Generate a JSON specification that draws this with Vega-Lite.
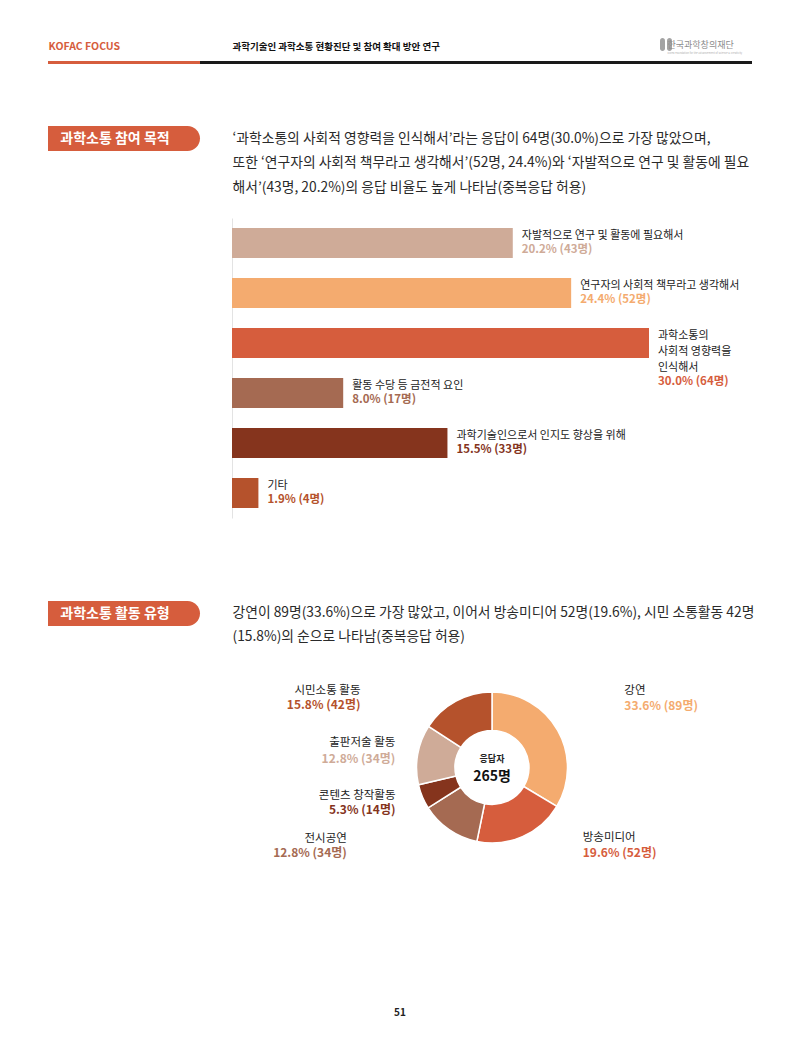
{
  "$schema": "https://vega.github.io/schema/vega-lite/v6.json",
  "padding": 0,
  "background": "white",
  "bounds": "full",
  "spacing": 0,
  "resolve": {"scale": {"color": "independent", "x": "independent", "y": "independent", "theta": "independent"}},
  "config": {"view": {"stroke": null}, "font": "Noto Sans CJK KR", "concat": {"spacing": 0}},
  "vconcat": [
    {"width": 800, "height": 38, "data": {"values": []}, "mark": "rect"},
    {"hconcat": [
      {"width": 48, "height": 18, "data": {"values": []}, "mark": "rect"},
      {"width": 1, "height": 18, "data": {"values": [{"t": "KOFAC FOCUS"}]}, "mark": {"type": "text", "align": "left", "baseline": "middle", "fontSize": 10.5, "fontWeight": "bold", "color": "#d65d3d"}, "encoding": {"text": {"field": "t"}}},
      {"width": 183, "height": 18, "data": {"values": []}, "mark": "rect"},
      {"width": 1, "height": 18, "data": {"values": [{"t": "과학기술인 과학소통 현황진단 및 참여 확대 방안 연구"}]}, "mark": {"type": "text", "align": "left", "baseline": "middle", "fontSize": 9.5, "fontWeight": "bold", "color": "#111111"}, "encoding": {"text": {"field": "t"}}},
      {"width": 427, "height": 18, "data": {"values": []}, "mark": "rect"},
      {"hconcat": [
        {"width": 5, "height": 13, "data": {"values": [{}]}, "mark": {"type": "rect", "color": "#a3a3a3", "cornerRadius": 2.5}, "encoding": {}},
        {"width": 2, "height": 13, "data": {"values": []}, "mark": "rect"},
        {"width": 5, "height": 13, "data": {"values": [{}]}, "mark": {"type": "rect", "color": "#a3a3a3", "cornerRadius": 2.5}, "encoding": {}}
      ], "spacing": 0, "bounds": "flush"},
      {"width": 7, "height": 18, "data": {"values": []}, "mark": "rect"},
      {"width": 1, "height": 18, "data": {"values": [{"k": "한국과학창의재단", "e": "Korea Foundation for the Advancement of Science & Creativity"}]},
       "layer": [
        {"mark": {"type": "text", "align": "left", "baseline": "middle", "dy": -2, "fontSize": 9, "color": "#8c8c8c"}, "encoding": {"text": {"field": "k"}}},
        {"mark": {"type": "text", "align": "left", "baseline": "middle", "dy": 6, "fontSize": 2.6, "color": "#b0b0b0"}, "encoding": {"text": {"field": "e"}}}
       ]}
    ], "spacing": 0, "bounds": "flush"},
    {"width": 800, "height": 5, "data": {"values": []}, "mark": "rect"},
    {"hconcat": [
      {"width": 48, "height": 3, "data": {"values": []}, "mark": "rect"},
      {"width": 152, "height": 3, "data": {"values": [{}]}, "mark": {"type": "rect", "color": "#d65d3d"}, "encoding": {}},
      {"width": 552, "height": 3, "data": {"values": [{}]}, "mark": {"type": "rect", "color": "#1a1a1a"}, "encoding": {}}
    ], "spacing": 0, "bounds": "flush"},
    {"width": 800, "height": 62, "data": {"values": []}, "mark": "rect"},
    {"hconcat": [
      {"width": 48, "height": 73, "data": {"values": []}, "mark": "rect"},
      {"width": 152, "height": 25, "data": {"values": [{"label": "과학소통 참여 목적"}]},
       "layer": [
        {"mark": {"type": "rect", "color": "#d65d3d", "cornerRadiusTopRight": 12.5, "cornerRadiusBottomRight": 12.5}, "encoding": {}},
        {"mark": {"type": "text", "color": "#ffffff", "fontWeight": "bold", "fontSize": 14, "align": "center", "baseline": "middle", "dx": -9}, "encoding": {"text": {"field": "label"}}}
       ]},
      {"width": 32, "height": 25, "data": {"values": []}, "mark": "rect"},
      {"width": 1, "height": 25, "data": {"values": [{"t": "‘과학소통의 사회적 영향력을 인식해서’라는 응답이 64명(30.0%)으로 가장 많았으며,\n또한 ‘연구자의 사회적 책무라고 생각해서’(52명, 24.4%)와 ‘자발적으로 연구 및 활동에 필요\n해서’(43명, 20.2%)의 응답 비율도 높게 나타남(중복응답 허용)"}]},
       "mark": {"type": "text", "align": "left", "baseline": "middle", "fontSize": 13.8, "lineHeight": 24.5, "lineBreak": "\n", "color": "#2a2a2a"}, "encoding": {"text": {"field": "t"}}}
    ], "spacing": 0, "bounds": "flush"},
    {"width": 800, "height": 19, "data": {"values": []}, "mark": "rect"},
    {"hconcat": [
      {"width": 232, "height": 300, "data": {"values": []}, "mark": "rect"},
      {"width": 417, "height": 300,
       "data": {"values": [
        {"reason": "자발적으로 연구 및 활동에 필요해서", "label": "자발적으로 연구 및 활동에 필요해서", "pct": 20.2, "n": 43, "value": "20.2% (43명)"},
        {"reason": "연구자의 사회적 책무라고 생각해서", "label": "연구자의 사회적 책무라고 생각해서", "pct": 24.4, "n": 52, "value": "24.4% (52명)"},
        {"reason": "과학소통의 사회적 영향력을 인식해서", "label": "과학소통의\n사회적 영향력을\n인식해서", "pct": 30.0, "n": 64, "value": "30.0% (64명)"},
        {"reason": "활동 수당 등 금전적 요인", "label": "활동 수당 등 금전적 요인", "pct": 8.0, "n": 17, "value": "8.0% (17명)"},
        {"reason": "과학기술인으로서 인지도 향상을 위해", "label": "과학기술인으로서 인지도 향상을 위해", "pct": 15.5, "n": 33, "value": "15.5% (33명)"},
        {"reason": "기타", "label": "기타", "pct": 1.9, "n": 4, "value": "1.9% (4명)"}
       ]},
       "encoding": {
        "x": {"field": "pct", "type": "quantitative", "scale": {"domain": [0, 30]}, "axis": null},
        "color": {"field": "reason", "type": "nominal", "scale": {"domain": ["자발적으로 연구 및 활동에 필요해서", "연구자의 사회적 책무라고 생각해서", "과학소통의 사회적 영향력을 인식해서", "활동 수당 등 금전적 요인", "과학기술인으로서 인지도 향상을 위해", "기타"], "range": ["#cfab98", "#f4ab6f", "#d65d3d", "#a56a52", "#85341d", "#b5522c"]}, "legend": null}
       },
       "layer": [
        {"mark": {"type": "bar"},
         "encoding": {"y": {"field": "reason", "type": "nominal", "scale": {"domain": ["자발적으로 연구 및 활동에 필요해서", "연구자의 사회적 책무라고 생각해서", "과학소통의 사회적 영향력을 인식해서", "활동 수당 등 금전적 요인", "과학기술인으로서 인지도 향상을 위해", "기타"], "paddingInner": 0.4, "paddingOuter": 0.2}, "axis": {"title": null, "labels": false, "ticks": false, "domain": true, "domainColor": "#e3e3e3", "domainWidth": 1, "grid": false}}}},
        {"mark": {"type": "text", "align": "left", "baseline": "top", "dx": 9, "dy": 2, "fontSize": 11, "lineHeight": 16, "lineBreak": "\n"},
         "encoding": {"y": {"field": "reason", "type": "nominal", "bandPosition": 0, "axis": {"title": null, "labels": false, "ticks": false, "domain": true, "domainColor": "#e3e3e3", "grid": false}}, "text": {"field": "label"}, "color": {"value": "#222222"}}},
        {"transform": [{"filter": "datum.pct != 30"}],
         "mark": {"type": "text", "align": "left", "baseline": "top", "dx": 9, "dy": 16, "fontSize": 11.5, "fontWeight": "bold"},
         "encoding": {"y": {"field": "reason", "type": "nominal", "bandPosition": 0, "axis": {"title": null, "labels": false, "ticks": false, "domain": true, "domainColor": "#e3e3e3", "grid": false}}, "text": {"field": "value"}}},
        {"transform": [{"filter": "datum.pct == 30"}],
         "mark": {"type": "text", "align": "left", "baseline": "top", "dx": 9, "dy": 48, "fontSize": 11.5, "fontWeight": "bold"},
         "encoding": {"y": {"field": "reason", "type": "nominal", "bandPosition": 0, "axis": {"title": null, "labels": false, "ticks": false, "domain": true, "domainColor": "#e3e3e3", "grid": false}}, "text": {"field": "value"}}}
       ]}
    ], "spacing": 0, "bounds": "flush"},
    {"width": 800, "height": 83, "data": {"values": []}, "mark": "rect"},
    {"hconcat": [
      {"width": 48, "height": 47, "data": {"values": []}, "mark": "rect"},
      {"width": 152, "height": 25, "data": {"values": [{"label": "과학소통 활동 유형"}]},
       "layer": [
        {"mark": {"type": "rect", "color": "#d65d3d", "cornerRadiusTopRight": 12.5, "cornerRadiusBottomRight": 12.5}, "encoding": {}},
        {"mark": {"type": "text", "color": "#ffffff", "fontWeight": "bold", "fontSize": 14, "align": "center", "baseline": "middle", "dx": -9}, "encoding": {"text": {"field": "label"}}}
       ]},
      {"width": 32, "height": 25, "data": {"values": []}, "mark": "rect"},
      {"width": 1, "height": 23, "data": {"values": [{"t": "강연이 89명(33.6%)으로 가장 많았고, 이어서 방송미디어 52명(19.6%), 시민 소통활동 42명\n(15.8%)의 순으로 나타남(중복응답 허용)"}]},
       "mark": {"type": "text", "align": "left", "baseline": "middle", "fontSize": 13.8, "lineHeight": 24.5, "lineBreak": "\n", "color": "#2a2a2a"}, "encoding": {"text": {"field": "t"}}}
    ], "spacing": 0, "bounds": "flush"},
    {"width": 800, "height": 24, "data": {"values": []}, "mark": "rect"},
    {"hconcat": [
      {"width": 262, "height": 191, "data": {"values": []}, "mark": "rect"},
      {"width": 460, "height": 191,
       "data": {"values": [
        {"activity": "강연", "n": 89, "pct": 33.6, "seq": 1, "value": "33.6% (89명)"},
        {"activity": "방송미디어", "n": 52, "pct": 19.6, "seq": 2, "value": "19.6% (52명)"},
        {"activity": "전시공연", "n": 34, "pct": 12.8, "seq": 3, "value": "12.8% (34명)"},
        {"activity": "콘텐츠 창작활동", "n": 14, "pct": 5.3, "seq": 4, "value": "5.3% (14명)"},
        {"activity": "출판저술 활동", "n": 34, "pct": 12.8, "seq": 5, "value": "12.8% (34명)"},
        {"activity": "시민소통 활동", "n": 42, "pct": 15.8, "seq": 6, "value": "15.8% (42명)"}
       ]},
       "layer": [
        {"mark": {"type": "arc", "outerRadius": 75.5, "innerRadius": 37, "stroke": "#ffffff", "strokeWidth": 1.5},
         "encoding": {"theta": {"field": "n", "type": "quantitative", "stack": true}, "order": {"field": "seq", "type": "quantitative"},
          "color": {"field": "activity", "type": "nominal", "scale": {"domain": ["강연", "방송미디어", "전시공연", "콘텐츠 창작활동", "출판저술 활동", "시민소통 활동"], "range": ["#f4ab6f", "#d65d3d", "#a56a52", "#85341d", "#cfab98", "#b5522c"]}, "legend": null}}},
        {"mark": {"type": "text", "clip": true, "radius": 90, "align": "left", "baseline": "middle", "dx": 54, "dy": -32, "fontSize": 11.5, "color": "#222222"},
         "encoding": {"theta": {"field": "n", "type": "quantitative", "stack": true}, "order": {"field": "seq", "type": "quantitative"}, "detail": {"field": "activity", "type": "nominal"}, "text": {"condition": {"test": "datum.seq === 1", "field": "activity"}, "value": ""}}},
        {"mark": {"type": "text", "clip": true, "radius": 90, "align": "left", "baseline": "middle", "dx": 54, "dy": -17.5, "fontSize": 12, "fontWeight": "bold"},
         "encoding": {"theta": {"field": "n", "type": "quantitative", "stack": true}, "order": {"field": "seq", "type": "quantitative"}, "color": {"field": "activity", "type": "nominal", "legend": null}, "text": {"condition": {"test": "datum.seq === 1", "field": "value"}, "value": ""}}},
        {"mark": {"type": "text", "clip": true, "radius": 90, "align": "left", "baseline": "middle", "dx": 54.5, "dy": -11.5, "fontSize": 11.5, "color": "#222222"},
         "encoding": {"theta": {"field": "n", "type": "quantitative", "stack": true}, "order": {"field": "seq", "type": "quantitative"}, "detail": {"field": "activity", "type": "nominal"}, "text": {"condition": {"test": "datum.seq === 2", "field": "activity"}, "value": ""}}},
        {"mark": {"type": "text", "clip": true, "radius": 90, "align": "left", "baseline": "middle", "dx": 54.5, "dy": 3, "fontSize": 12, "fontWeight": "bold"},
         "encoding": {"theta": {"field": "n", "type": "quantitative", "stack": true}, "order": {"field": "seq", "type": "quantitative"}, "color": {"field": "activity", "type": "nominal", "legend": null}, "text": {"condition": {"test": "datum.seq === 2", "field": "value"}, "value": ""}}},
        {"mark": {"type": "text", "clip": true, "radius": 90, "align": "right", "baseline": "middle", "dx": -94, "dy": -3, "fontSize": 11.5, "color": "#222222"},
         "encoding": {"theta": {"field": "n", "type": "quantitative", "stack": true}, "order": {"field": "seq", "type": "quantitative"}, "detail": {"field": "activity", "type": "nominal"}, "text": {"condition": {"test": "datum.seq === 3", "field": "activity"}, "value": ""}}},
        {"mark": {"type": "text", "clip": true, "radius": 90, "align": "right", "baseline": "middle", "dx": -94, "dy": 11.5, "fontSize": 12, "fontWeight": "bold"},
         "encoding": {"theta": {"field": "n", "type": "quantitative", "stack": true}, "order": {"field": "seq", "type": "quantitative"}, "color": {"field": "activity", "type": "nominal", "legend": null}, "text": {"condition": {"test": "datum.seq === 3", "field": "value"}, "value": ""}}},
        {"mark": {"type": "text", "clip": true, "radius": 90, "align": "right", "baseline": "middle", "dx": -13.5, "dy": -6.5, "fontSize": 11.5, "color": "#222222"},
         "encoding": {"theta": {"field": "n", "type": "quantitative", "stack": true}, "order": {"field": "seq", "type": "quantitative"}, "detail": {"field": "activity", "type": "nominal"}, "text": {"condition": {"test": "datum.seq === 4", "field": "activity"}, "value": ""}}},
        {"mark": {"type": "text", "clip": true, "radius": 90, "align": "right", "baseline": "middle", "dx": -13.5, "dy": 8, "fontSize": 12, "fontWeight": "bold"},
         "encoding": {"theta": {"field": "n", "type": "quantitative", "stack": true}, "order": {"field": "seq", "type": "quantitative"}, "color": {"field": "activity", "type": "nominal", "legend": null}, "text": {"condition": {"test": "datum.seq === 4", "field": "value"}, "value": ""}}},
        {"mark": {"type": "text", "clip": true, "radius": 90, "align": "right", "baseline": "middle", "dx": -8, "dy": -9, "fontSize": 11.5, "color": "#222222"},
         "encoding": {"theta": {"field": "n", "type": "quantitative", "stack": true}, "order": {"field": "seq", "type": "quantitative"}, "detail": {"field": "activity", "type": "nominal"}, "text": {"condition": {"test": "datum.seq === 5", "field": "activity"}, "value": ""}}},
        {"mark": {"type": "text", "clip": true, "radius": 90, "align": "right", "baseline": "middle", "dx": -8, "dy": 6.5, "fontSize": 12, "fontWeight": "bold"},
         "encoding": {"theta": {"field": "n", "type": "quantitative", "stack": true}, "order": {"field": "seq", "type": "quantitative"}, "color": {"field": "activity", "type": "nominal", "legend": null}, "text": {"condition": {"test": "datum.seq === 5", "field": "value"}, "value": ""}}},
        {"mark": {"type": "text", "clip": true, "radius": 90, "align": "right", "baseline": "middle", "dx": -88.5, "dy": 2.5, "fontSize": 11.5, "color": "#222222"},
         "encoding": {"theta": {"field": "n", "type": "quantitative", "stack": true}, "order": {"field": "seq", "type": "quantitative"}, "detail": {"field": "activity", "type": "nominal"}, "text": {"condition": {"test": "datum.seq === 6", "field": "activity"}, "value": ""}}},
        {"mark": {"type": "text", "clip": true, "radius": 90, "align": "right", "baseline": "middle", "dx": -88.5, "dy": 17, "fontSize": 12, "fontWeight": "bold"},
         "encoding": {"theta": {"field": "n", "type": "quantitative", "stack": true}, "order": {"field": "seq", "type": "quantitative"}, "color": {"field": "activity", "type": "nominal", "legend": null}, "text": {"condition": {"test": "datum.seq === 6", "field": "value"}, "value": ""}}},
        {"data": {"values": [{"t": "응답자"}]}, "mark": {"type": "text", "fontSize": 9, "fontWeight": "bold", "color": "#222222", "dy": -8.5, "align": "center", "baseline": "middle"}, "encoding": {"text": {"field": "t"}}},
        {"data": {"values": [{"t": "265명"}]}, "mark": {"type": "text", "fontSize": 14, "fontWeight": "bold", "color": "#111111", "dy": 9.5, "align": "center", "baseline": "middle"}, "encoding": {"text": {"field": "t"}}}
       ]}
    ], "spacing": 0, "bounds": "flush"},
    {"width": 800, "height": 137, "data": {"values": []}, "mark": "rect"},
    {"width": 800, "height": 26, "data": {"values": [{"t": "51"}]}, "mark": {"type": "text", "align": "center", "baseline": "middle", "fontSize": 10, "fontWeight": "bold", "color": "#222222"}, "encoding": {"text": {"field": "t"}}}
  ]
}
